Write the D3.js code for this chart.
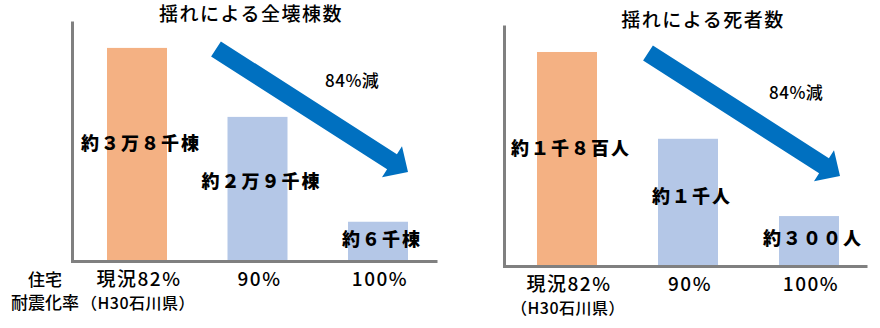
<!DOCTYPE html>
<html>
<head>
<meta charset="utf-8">
<script src="https://cdn.jsdelivr.net/npm/d3@7"></script>
<style>
  body { margin: 0; background: #fff; }
  text { font-family: "Noto Sans CJK JP", "Noto Sans", sans-serif; fill: #000; font-weight: 500; }
</style>
</head>
<body>
<svg id="chart" width="880" height="328"></svg>
<script>
// data
var categories = ["現況82%", "90%", "100%"];
var subLabels = ["（H30石川県）", "", ""];
var collapseValues = [38000, 25700, 7000];
var collapseLabels = ["約３万８千棟", "約２万９千棟", "約６千棟"];
var deathValues = [1800, 1070, 420];
var deathLabels = ["約１千８百人", "約１千人", "約３００人"];
var titles = ["揺れによる全壊棟数", "揺れによる死者数"];
var reductionText = "84%減";
var rowTitle = ["住宅", "耐震化率"];
var barColors = ["#f4b183", "#b4c7e7", "#b4c7e7"];

var svg = d3.select("#chart");
svg.append("rect").attr("width", 880).attr("height", 328).attr("fill", "#fff");

var panels = [
  {values: collapseValues, labels: collapseLabels, title: titles[0], ymax: 42800,
   left: 72, top: 21, bottom: 261, right: 437, bars: [137, 378],
   titleX: 251, titleY: 21, noteX: 325, noteY: 81, tickY: 286},
  {values: deathValues, labels: deathLabels, title: titles[1], ymax: 2027,
   left: 504, top: 25, bottom: 266, right: 867, bars: [567, 809],
   titleX: 703, titleY: 27, noteX: 769, noteY: 93, tickY: 291}
];

function arrowPath(x0, y0, x1, y1) {
  var shaft = 9, head = 18.5, headLen = 19;
  var dx = x1 - x0, dy = y1 - y0, len = Math.sqrt(dx*dx + dy*dy);
  var ux = dx/len, uy = dy/len, nx = -uy, ny = ux;
  var bx = x1 - ux*headLen, by = y1 - uy*headLen;
  var pts = [
    [x0 + nx*shaft, y0 + ny*shaft],
    [bx + nx*shaft, by + ny*shaft],
    [bx + nx*head, by + ny*head],
    [x1, y1],
    [bx - nx*head, by - ny*head],
    [bx - nx*shaft, by - ny*shaft],
    [x0 - nx*shaft, y0 - ny*shaft]
  ];
  return "M" + pts.map(function(p) { return p[0].toFixed(1) + "," + p[1].toFixed(1); }).join("L") + "Z";
}

panels.forEach(function(p) {
  var x = d3.scalePoint().domain(categories).range(p.bars);
  var y = d3.scaleLinear().domain([0, p.ymax]).range([p.bottom, p.top]);
  var g = svg.append("g");

  g.selectAll("rect.bar")
    .data(p.values)
    .enter().append("rect")
    .attr("class", "bar")
    .attr("x", function(d, i) { return x(categories[i]) - 30; })
    .attr("width", 60)
    .attr("y", function(d) { return y(d); })
    .attr("height", function(d) { return p.bottom - y(d); })
    .attr("fill", function(d, i) { return barColors[i]; });

  // axes, drawn as plain gray lines
  g.append("g")
    .attr("transform", "translate(" + p.left + ",0)")
    .call(d3.axisLeft(y).ticks(0).tickSize(0).tickFormat(""));
  g.append("g")
    .attr("transform", "translate(0," + p.bottom + ")")
    .call(d3.axisBottom(d3.scaleLinear().domain([0, 1]).range([p.left - 1.5, p.right])).ticks(0).tickSize(0).tickFormat(""));
  g.selectAll(".domain").attr("stroke", "#808080").attr("stroke-width", 3);

  // category labels under the axis
  g.selectAll("text.cat")
    .data(categories)
    .enter().append("text")
    .attr("class", "cat")
    .attr("x", function(d) { return x(d) + 2; })
    .attr("y", p.tickY)
    .attr("text-anchor", "middle")
    .style("font-size", "19px")
    .style("letter-spacing", "1.5px")
    .text(function(d) { return d; });

  g.selectAll("text.sub")
    .data(subLabels)
    .enter().append("text")
    .attr("class", "sub")
    .attr("x", function(d, i) { return x(categories[i]) + 1; })
    .attr("y", p.tickY + 23)
    .attr("text-anchor", "middle")
    .style("font-size", "16px")
    .style("letter-spacing", "0.5px")
    .text(function(d) { return d; });

  // value labels on the bars
  g.selectAll("text.val")
    .data(p.values)
    .enter().append("text")
    .attr("class", "val")
    .attr("x", function(d, i) { return x(categories[i]) + 4; })
    .attr("y", function(d) { return y(d * 0.55); })
    .attr("dy", "0.36em")
    .attr("text-anchor", "middle")
    .style("font-size", "18px")
    .style("font-weight", "900")
    .style("letter-spacing", "2px")
    .text(function(d, i) { return p.labels[i]; });

  g.append("text")
    .attr("x", p.titleX)
    .attr("y", p.titleY)
    .attr("text-anchor", "middle")
    .style("font-size", "19px")
    .style("letter-spacing", "1.5px")
    .text(p.title);

  g.append("path")
    .attr("d", arrowPath(p.left + 144, p.top + 28, p.left + 336, p.top + 151))
    .attr("fill", "#0070c0");

  g.append("text")
    .attr("x", p.noteX)
    .attr("y", p.noteY)
    .attr("dy", "0.36em")
    .style("font-size", "17px")
    .style("letter-spacing", "0.5px")
    .text(reductionText);
});

svg.selectAll("text.row")
  .data(rowTitle)
  .enter().append("text")
  .attr("class", "row")
  .attr("x", 45)
  .attr("y", function(d, i) { return 286 + i * 23; })
  .attr("text-anchor", "middle")
  .style("font-size", "17px")
  .text(function(d) { return d; });
</script>
</body>
</html>
